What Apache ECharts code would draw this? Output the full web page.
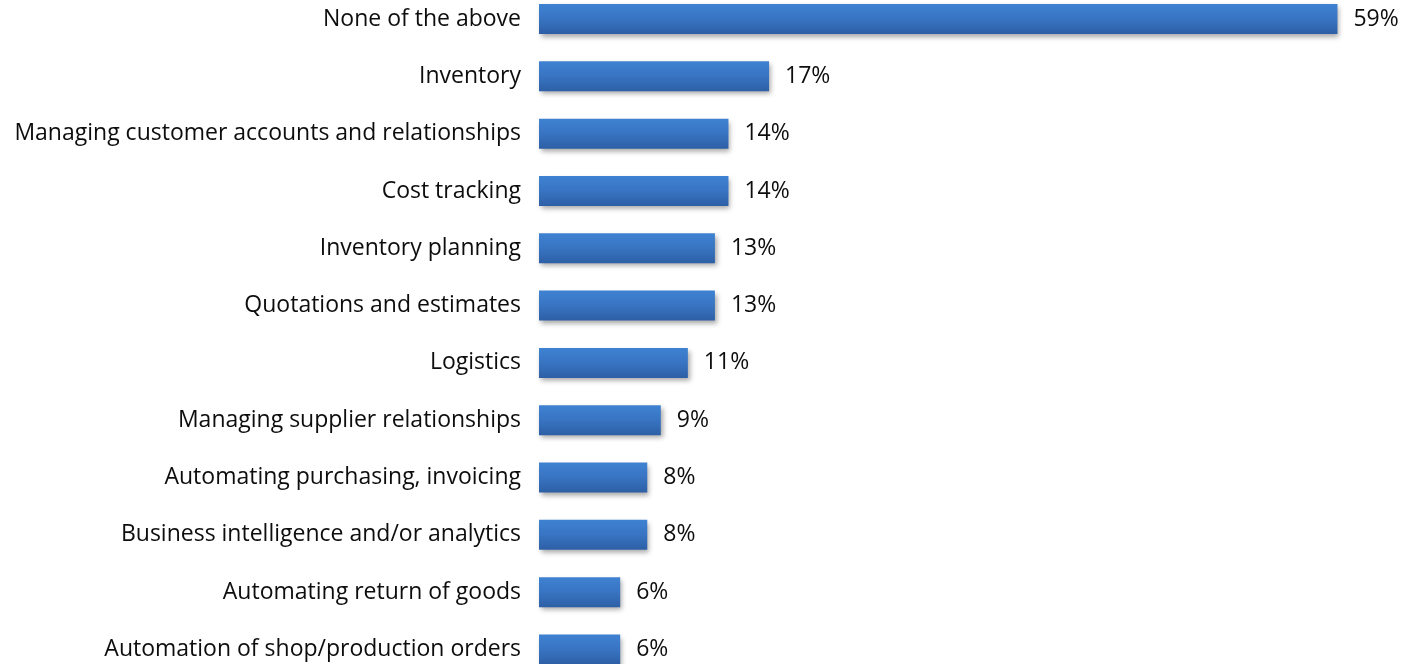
<!DOCTYPE html>
<html>
<head>
<meta charset="utf-8">
<script src="https://cdn.jsdelivr.net/npm/echarts@6/dist/echarts.min.js"></script>
<style>
  html, body { margin: 0; padding: 0; background: #ffffff; }
  #chart { width: 1403px; height: 664px; }
</style>
</head>
<body>
<div id="chart"></div>
<script>
// Categories listed top to bottom
const categories = [
  'None of the above',
  'Inventory',
  'Managing customer accounts and relationships',
  'Cost tracking',
  'Inventory planning',
  'Quotations and estimates',
  'Logistics',
  'Managing supplier relationships',
  'Automating purchasing, invoicing',
  'Business intelligence and/or analytics',
  'Automating return of goods',
  'Automation of shop/production orders'
];
// Share of respondents (%)
const values = [59, 17, 14, 14, 13, 13, 11, 9, 8, 8, 6, 6];

const chart = echarts.init(document.getElementById('chart'), null, { renderer: 'canvas' });
const FONT = '"Open Sans", Lato, sans-serif';

chart.setOption({
  animation: false,
  backgroundColor: '#ffffff',
  // categories sit on the grid edges (boundaryGap off), so the first and last
  // bars are centred on the top and bottom of the plot area
  grid: { left: 539, top: 19, width: 812, height: 630.5, containLabel: false },
  xAxis: {
    type: 'value', min: 0, max: 60,
    show: false
  },
  yAxis: {
    type: 'category',
    inverse: true,
    boundaryGap: false,
    data: categories,
    axisLine: { show: false },
    axisTick: { show: false },
    splitLine: { show: false },
    axisLabel: {
      margin: 18,
      fontFamily: FONT,
      fontSize: 23,
      color: '#0d0d0d'
    }
  },
  series: [{
    type: 'bar',
    data: values,
    barWidth: 30,
    clip: false,
    itemStyle: {
      color: new echarts.graphic.LinearGradient(0, 0, 0, 1, [
        { offset: 0, color: '#3f82d2' },
        { offset: 0.5, color: '#3874c2' },
        { offset: 1, color: '#2d5fa5' }
      ]),
      shadowColor: 'rgba(0,0,0,0.35)',
      shadowBlur: 5,
      shadowOffsetX: 2,
      shadowOffsetY: 3
    },
    label: {
      show: true,
      position: 'right',
      distance: 16,
      formatter: p => p.value + '%',
      fontFamily: FONT,
      fontSize: 23,
      color: '#0d0d0d'
    }
  }]
});
</script>
</body>
</html>
